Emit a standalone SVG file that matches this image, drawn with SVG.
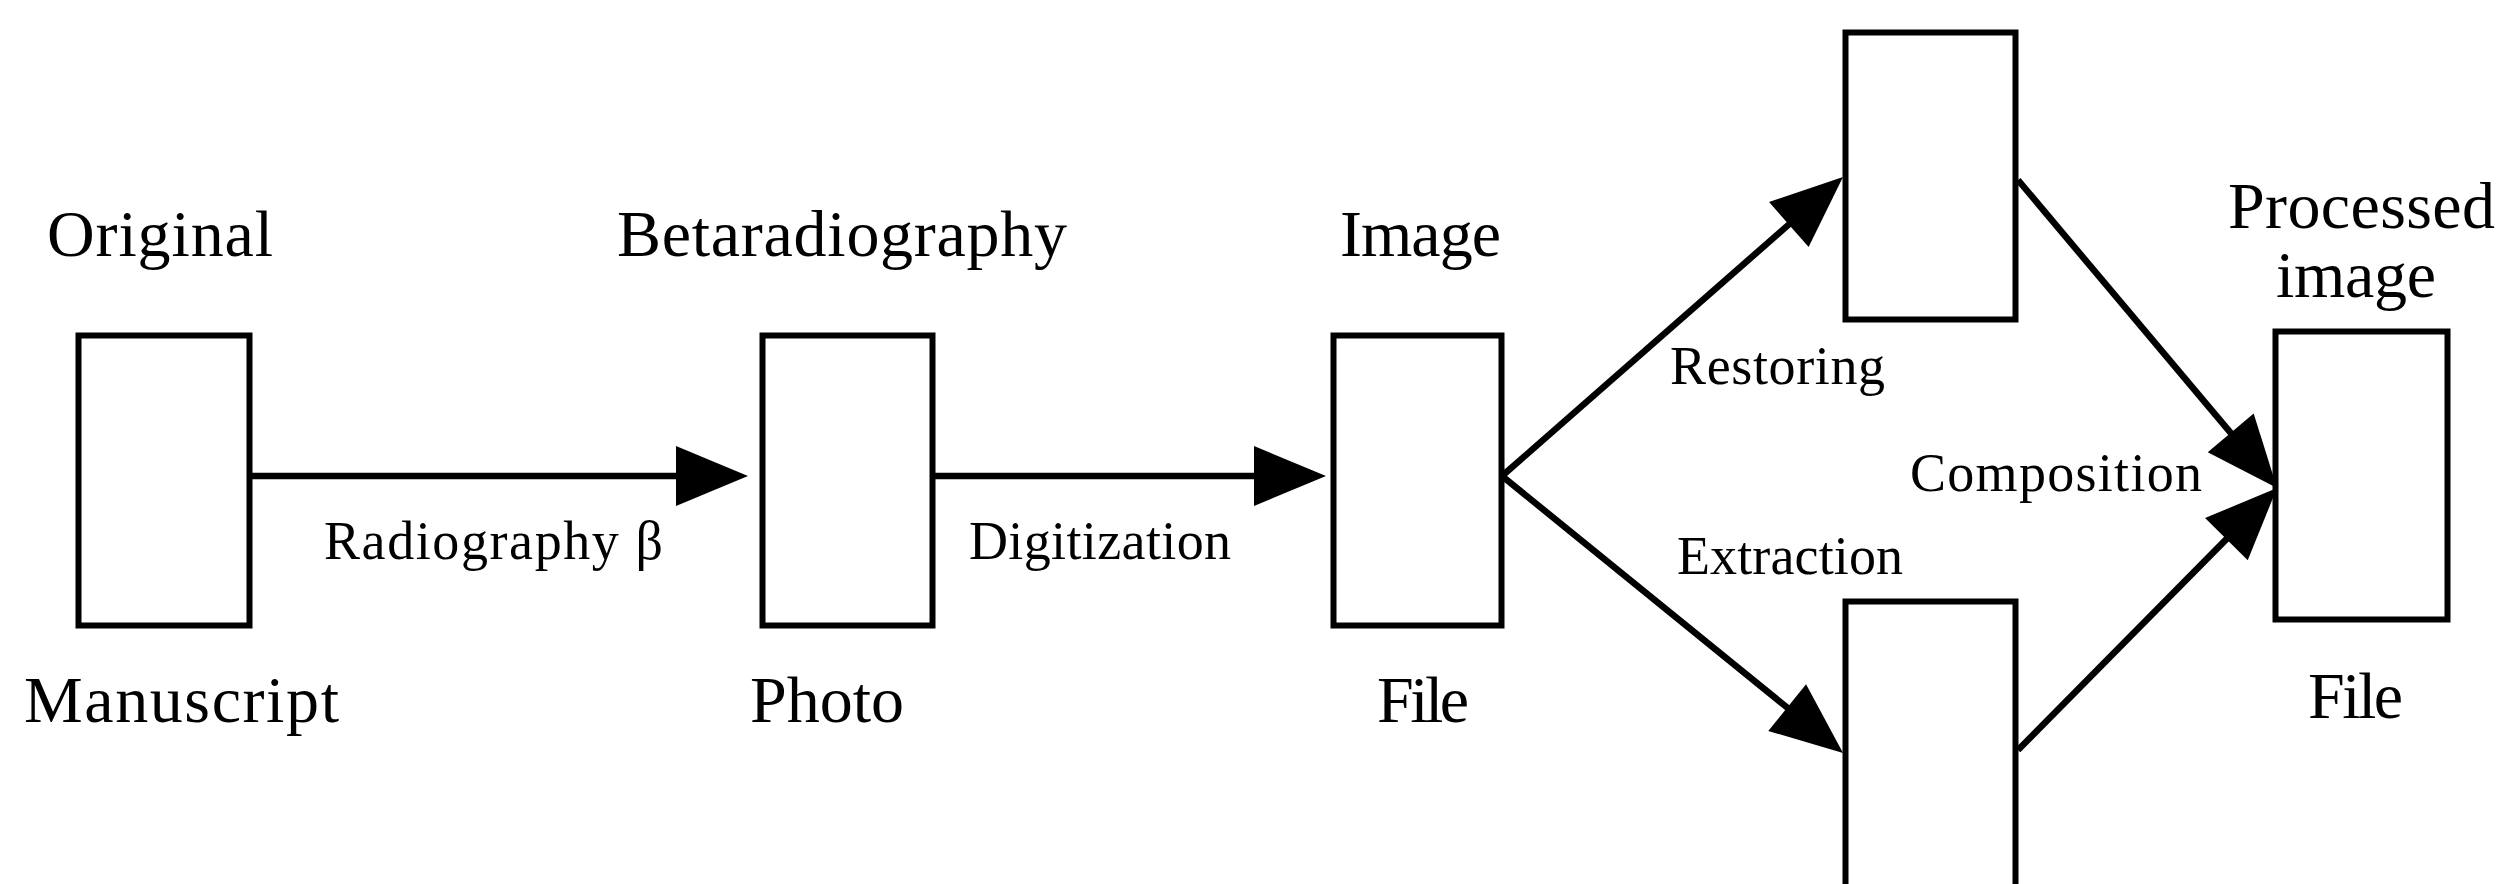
<svg xmlns="http://www.w3.org/2000/svg" width="2501" height="884" viewBox="0 0 2501 884">
<style>
.box{fill:#fff;stroke:#000;stroke-width:6}
.con{fill:none;stroke:#000;stroke-width:6.5}
.big{font-family:"Liberation Serif","Times New Roman",serif;font-size:66px;fill:#000}
.sm{font-family:"Liberation Serif","Times New Roman",serif;font-size:54px;fill:#000}
</style>
<defs>
<marker id="ah" markerUnits="userSpaceOnUse" markerWidth="80" markerHeight="64" refX="32" refY="30" orient="auto" overflow="visible">
<path d="M0,0 L72,30 L0,60 Z" fill="#000"/>
</marker>
</defs>
<rect width="2501" height="884" fill="#fff"/>
<g id="connectors">
<line class="con" x1="251" y1="476" x2="708" y2="476" marker-end="url(#ah)"/>
<line class="con" x1="935" y1="476" x2="1286" y2="476" marker-end="url(#ah)"/>
<line class="con" x1="1502" y1="476" x2="1812.9" y2="203.4" marker-end="url(#ah)"/>
<line class="con" x1="1502" y1="476" x2="1812" y2="727.8" marker-end="url(#ah)"/>
<line class="con" x1="2018" y1="180" x2="2251.3" y2="457.4" marker-end="url(#ah)"/>
<line class="con" x1="2018" y1="750" x2="2248.9" y2="516.4" marker-end="url(#ah)"/>
<text class="sm" x="324" y="559" textLength="339">Radiography β</text>
<text class="sm" x="969" y="559" textLength="262">Digitization</text>
<text class="sm" x="1670" y="384" textLength="215">Restoring</text>
<text class="sm" x="1677" y="574" textLength="226">Extraction</text>
<text class="sm" x="1910" y="491" textLength="292">Composition</text>
</g>
<g id="original">
<rect class="box" x="78.5" y="335.5" width="171" height="290"/>
<text class="big" x="47" y="256" textLength="226">Original</text>
<text class="big" x="24" y="722" textLength="315">Manuscript</text>
</g>
<g id="betaradiography">
<rect class="box" x="762.5" y="335.5" width="170" height="290"/>
<text class="big" x="617" y="256" textLength="450">Betaradiography</text>
<text class="big" x="750" y="722" textLength="154">Photo</text>
</g>
<g id="image">
<rect class="box" x="1333.5" y="335.5" width="168" height="290"/>
<text class="big" x="1340" y="256" textLength="161">Image</text>
<text class="big" x="1377" y="722" textLength="92">File</text>
</g>
<g id="restored">
<rect class="box" x="1845.5" y="32.5" width="170" height="287"/>
</g>
<g id="extracted">
<rect class="box" x="1845.5" y="601.5" width="170" height="300"/>
</g>
<g id="processed">
<rect class="box" x="2275.5" y="331.5" width="172" height="288"/>
<text class="big" x="2228" y="228" textLength="267">Processed</text>
<text class="big" x="2276" y="297" textLength="160">image</text>
<text class="big" x="2308" y="718" textLength="95">File</text>
</g>
</svg>
